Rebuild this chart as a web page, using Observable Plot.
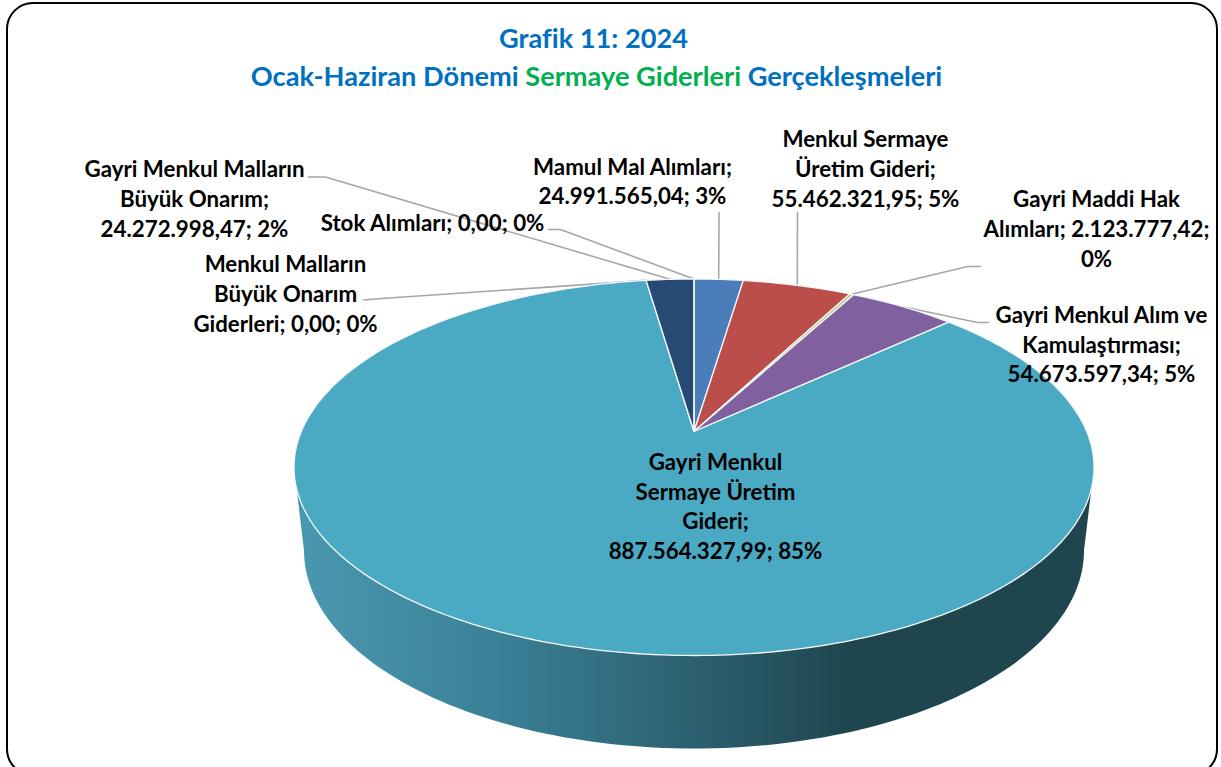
<!DOCTYPE html>
<html lang="tr">
<head>
<meta charset="utf-8">
<script src="https://cdn.jsdelivr.net/npm/d3@7"></script>
<script src="https://cdn.jsdelivr.net/npm/@observablehq/plot@0.6"></script>
<style>
  html, body { margin: 0; padding: 0; background: #fff; overflow: hidden; }
  #page { position: relative; width: 1221px; height: 767px; overflow: hidden; font-family: Lato, sans-serif; }
  #frame { position: absolute; left: 6px; top: 2px; width: 1208px; height: 770px; border: 2px solid #000; border-radius: 27px; box-sizing: content-box; }
  #title { position: absolute; left: 0; top: 0; width: 1187px; height: 98px; text-align: center; font-weight: 700; font-size: 27.2px; line-height: 38px; color: #0070c0; padding-top: 19px; box-sizing: border-box; white-space: nowrap; }
  #title .l2 { position: relative; left: 3px; }
  #title .g { color: #00b050; }
  #chart { position: absolute; left: 0; top: 98px; }
  #chart svg { display: block; }
</style>
</head>
<body>
<div id="page">
  <div id="frame"></div>
  <div id="title"><div>Grafik 11: 2024</div><div class="l2">Ocak-Haziran Dönemi <span class="g">Sermaye Giderleri</span> Gerçekleşmeleri</div></div>
  <div id="chart"></div>
</div>
<script>
// ---- chart data (clockwise from 12 o'clock) ----
const categories = [
  "Mamul Mal Alımları",
  "Menkul Sermaye Üretim Gideri",
  "Gayri Maddi Hak Alımları",
  "Gayri Menkul Alım ve Kamulaştırması",
  "Gayri Menkul Sermaye Üretim Gideri",
  "Menkul Malların Büyük Onarım Giderleri",
  "Gayri Menkul Malların Büyük Onarım",
  "Stok Alımları"
];
const values = [24991565.04, 55462321.95, 2123777.42, 54673597.34, 887564327.99, 0, 24272998.47, 0];
const labelTexts = [
  "Mamul Mal Alımları;\n24.991.565,04; 3%",
  "Menkul Sermaye\nÜretim Gideri;\n55.462.321,95; 5%",
  "Gayri Maddi Hak\nAlımları; 2.123.777,42;\n0%",
  "Gayri Menkul Alım ve\nKamulaştırması;\n54.673.597,34; 5%",
  "Gayri Menkul\nSermaye Üretim\nGideri;\n887.564.327,99; 85%",
  "Menkul Malların\nBüyük Onarım\nGiderleri; 0,00; 0%",
  "Gayri Menkul Malların\nBüyük Onarım;\n24.272.998,47; 2%",
  "Stok Alımları; 0,00; 0%"
];
const sliceColors = ["#4a7ebb", "#bb4e4a", "#b9cf8a", "#80609f", "#4aa9c3", "#4aa9c3", "#274a75", "#4a7ebb"];

// ---- layout of the picture, in page pixels ----
const cx = 693.5, apexY = 431, backY = 278.5, frontY = 655, halfWidth = 400;
const c = (backY + frontY - 2 * apexY) / (frontY - backY);
const A = backY * (1 + c) - apexY;
const R = halfWidth * Math.sqrt(1 - c * c);
// perspective view of the pie's rim; theta clockwise from the back of the pie
const rim = (theta) => {
  const u = Math.sin(theta), v = Math.cos(theta), w = 1 + c * v;
  return {x: cx + R * u / w, y: (A * v + apexY) / w};
};
const rad = (d) => (d * Math.PI) / 180;
const total = d3.sum(values);
let acc = 0;
const slices = categories.map((name, i) => {
  const a0 = (acc / total) * 2 * Math.PI;
  acc += values[i];
  const a1 = (acc / total) * 2 * Math.PI;
  return {name, a0, a1, mid: (a0 + a1) / 2};
});
const face = slices.flatMap(({name, a0, a1}) => {
  const n = Math.max(1, Math.ceil((a1 - a0) / rad(1)));
  const arc = d3.range(n + 1).map((k) => ({name, ...rim(a0 + ((a1 - a0) * k) / n)}));
  const apex = {name, x: cx, y: apexY};
  return [apex, ...arc, apex];
});

// side wall: front half of the top rim, then the smaller rim underneath
const lower = {x: 693.5, y: 550, rx: 390, ry: 198};
const startTheta = Math.acos(-c);
const wall = [
  ...d3.range(0, 101).map((k) => rim(startTheta + ((2 * Math.PI - 2 * startTheta) * k) / 100)),
  ...d3.range(180, -1, -1.5).map((d) => ({x: lower.x + lower.rx * Math.cos(rad(d)), y: lower.y + lower.ry * Math.sin(rad(d))}))
];
wall.push(wall[0]);

// label anchors (centre of the text block) and leader-line elbows
const labelPos = [
  [632, 179.5], [865, 167], [1096, 227], [1101, 342.5], [715, 504.5], [285, 292], [194, 197], [432, 221]
];
const labels = labelTexts.map((text, i) => ({text, x: labelPos[i][0], y: labelPos[i][1]}));
const elbows = [
  [[718.5, 212]],
  [[797, 212]],
  [[980, 266], [967, 266]],
  [[988, 322], [977, 322]],
  null,
  [[363, 299.5], [381, 298]],
  [[308, 176.5], [325, 176.5]],
  [[548, 229], [560, 229]]
];
const leaders = elbows.flatMap((pts, i) => {
  if (!pts) return [];
  const s = slices[i];
  const end = rim(s.mid);
  return [...pts.map(([x, y]) => ({id: i, x, y})), {id: i, x: end.x, y: end.y}];
});

const wallGradient = () => {
  const defs = d3.create("svg:defs");
  const g = defs.append("linearGradient").attr("id", "wallGrad").attr("x1", 0).attr("x2", 1).attr("y1", 0).attr("y2", 0);
  [[0, "#4a99b0"], [0.25, "#3b8197"], [0.5, "#2c6070"], [0.7, "#1f454e"], [1, "#1f454e"]].forEach(([o, col]) =>
    g.append("stop").attr("offset", o).attr("stop-color", col));
  return defs.node();
};

const chart = Plot.plot({
  width: 1221,
  height: 669,
  margin: 0,
  style: {background: "transparent", fontFamily: "Lato, sans-serif", overflow: "visible"},
  x: {domain: [0, 1221], range: [0, 1221], axis: null},
  y: {domain: [98, 767], range: [0, 669], axis: null},
  color: {domain: categories, range: sliceColors},
  marks: [
    wallGradient,
    Plot.line(wall, {x: "x", y: "y", fill: "url(#wallGrad)", stroke: "none"}),
    Plot.line(leaders, {x: "x", y: "y", z: "id", stroke: "#a6a6a6", strokeWidth: 1.6}),
    Plot.line(face, {x: "x", y: "y", z: "name", fill: "name", stroke: "#f4f7f8", strokeWidth: 1.3, strokeLinejoin: "round"}),
    Plot.text(labels, {
      x: "x", y: "y", text: "text", fill: "#000", fontWeight: 700, fontSize: 22.3,
      lineHeight: 1.335, textAnchor: "middle"
    })
  ]
});
document.getElementById("chart").append(chart);
</script>
</body>
</html>
